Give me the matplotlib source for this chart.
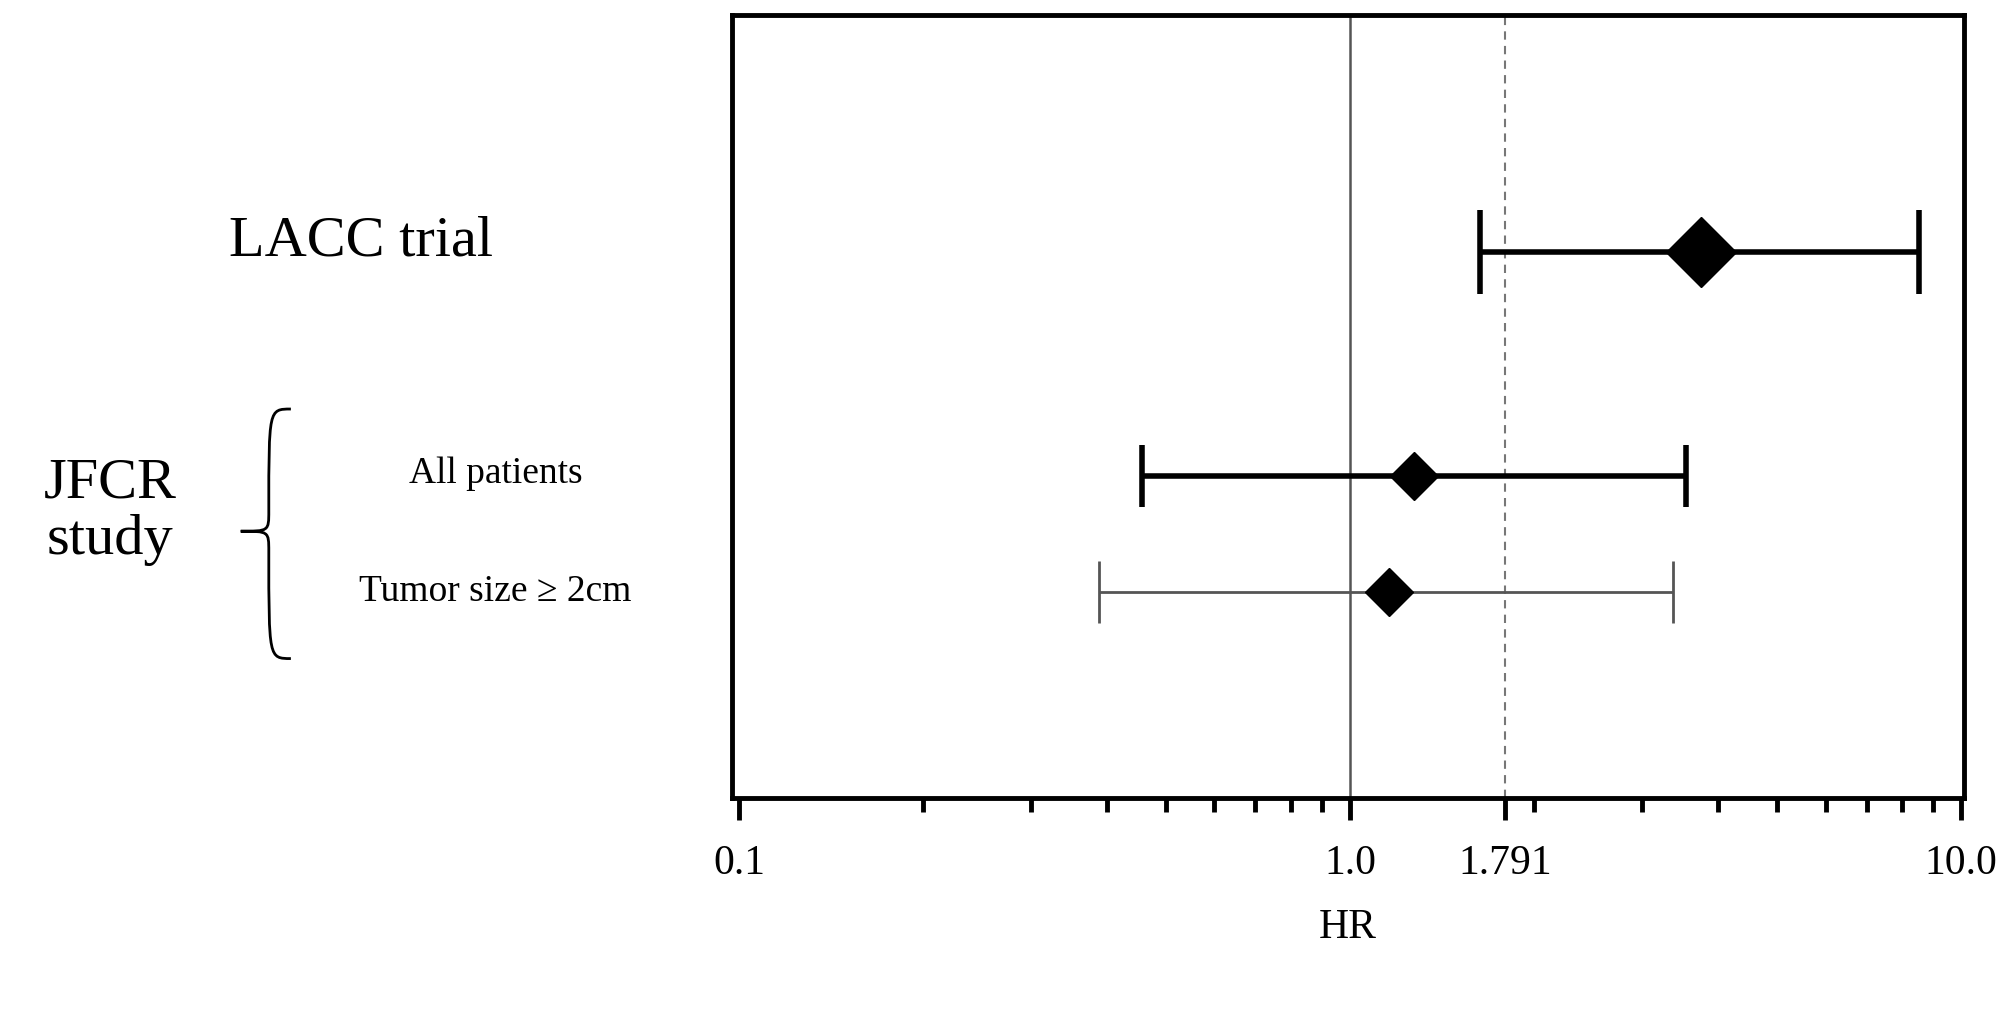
import matplotlib
matplotlib.use("Agg")
import matplotlib.pyplot as plt
from matplotlib.path import Path
from matplotlib.patches import PathPatch
from matplotlib.ticker import FixedLocator, FixedFormatter, LogLocator, NullFormatter

plt.rcParams['font.family'] = ['Liberation Serif', 'DejaVu Serif']

labels = ["LACC trial", "All patients", "Tumor size \u2265 2cm"]
hr = [3.75, 1.27, 1.16]
lower = [1.63, 0.457, 0.388]
upper = [8.53, 3.55, 3.37]
ypos = [188, 365, 457]
lw_bar = [4, 4, 2]
bar_col = ["black", "black", "#555555"]
msize = [36, 24, 24]
ref_line = 1.791
tick_vals = [0.1, 1.0, 1.791, 10.0]
tick_labels = ["0.1", "1.0", "1.791", "10.0"]

fig = plt.figure(figsize=(20.06, 10.11), dpi=100)
ax = fig.add_axes([0.365, 0.211, 0.614, 0.774])
ax.set_xscale('log')
ax.set_xlim(0.0975, 10.1)
ax.set_ylim(620, 0)

ax.axvline(1.0, color='#555555', lw=1.8)
ax.axvline(ref_line, color='#777777', lw=1.5, ls=(0, (4, 3)))

for i in range(len(labels)):
    ax.errorbar(hr[i], ypos[i], xerr=[[hr[i]-lower[i]], [upper[i]-hr[i]]],
                fmt='none', ecolor=bar_col[i], elinewidth=lw_bar[i],
                capsize=[30, 22, 22][i], capthick=lw_bar[i])
    ax.plot(hr[i], ypos[i], marker='D', color='black', ms=msize[i], ls='none')

for s in ax.spines.values():
    s.set_linewidth(3.5)
ax.set_yticks([])
ax.xaxis.set_major_locator(FixedLocator([0.1, 1.0, 10.0]))
ax.xaxis.set_minor_locator(LogLocator(base=10, subs=range(2, 10)))
ax.xaxis.set_minor_formatter(NullFormatter())
ax.tick_params(axis='x', which='major', length=16, width=3.5, labelsize=30)
ax.tick_params(axis='x', which='minor', length=10, width=3.5)
ax.set_xticks(tick_vals, labels=tick_labels)
ax.tick_params(axis='x', which='major', pad=18)
ax.set_xlabel("HR", fontsize=30, labelpad=18)

fig.text(0.18, 1 - 188/786, labels[0], fontsize=42, ha='center', va='center')
fig.text(0.055, 1 - 398/786, "JFCR\nstudy", fontsize=42, ha='center', va='center', linespacing=1.1)
fig.text(0.247, 1 - 368/786, labels[1], fontsize=27, ha='center', va='center')
fig.text(0.247, 1 - 460/786, labels[2], fontsize=27, ha='center', va='center')

# curly brace
xr, xl, xt = 0.145, 0.134, 0.120
yt, ym, yb = 1 - 318/786, 1 - 413/786, 1 - 512/786
verts = [(xr, yt), (xl, yt), (xl, yt), (xl, ym + 0.02),
         (xl, ym), (xl, ym), (xt, ym),
         (xl, ym), (xl, ym), (xl, ym - 0.02),
         (xl, yb), (xl, yb), (xr, yb)]
codes = [Path.MOVETO, Path.CURVE4, Path.CURVE4, Path.CURVE4,
         Path.CURVE4, Path.CURVE4, Path.CURVE4,
         Path.CURVE4, Path.CURVE4, Path.CURVE4,
         Path.CURVE4, Path.CURVE4, Path.CURVE4]
fig.add_artist(PathPatch(Path(verts, codes), transform=fig.transFigure,
                         fill=False, lw=2, color='black'))

fig.savefig("out.png", dpi=100)
